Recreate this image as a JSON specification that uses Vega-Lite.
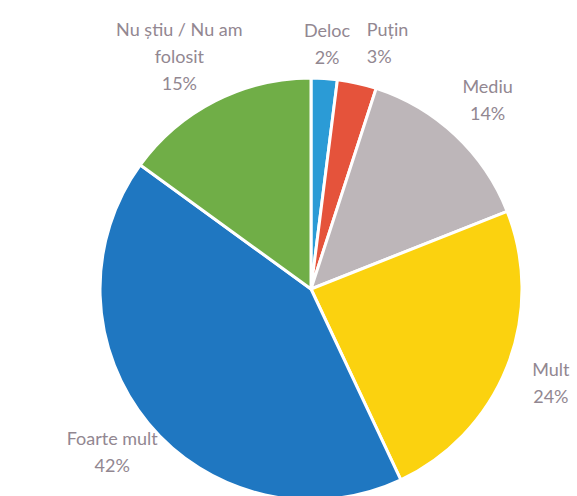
{
  "$schema": "https://vega.github.io/schema/vega-lite/v6.json",
  "autosize": {"type": "none"},
  "width": 422,
  "height": 422,
  "padding": {"left": 100, "top": 78, "right": 55, "bottom": 0},
  "background": "white",
  "view": {"stroke": null},
  "data": {
    "values": [
      {"idx": 1, "name": "Deloc", "value": 2},
      {"idx": 2, "name": "Puțin", "value": 3},
      {"idx": 3, "name": "Mediu", "value": 14},
      {"idx": 4, "name": "Mult", "value": 24},
      {"idx": 5, "name": "Foarte mult", "value": 42},
      {"idx": 6, "name": "Nu știu / Nu am\nfolosit", "value": 15}
    ]
  },
  "transform": [
    {"calculate": "datum.name + '\\n' + datum.value + '%'", "as": "label"}
  ],
  "encoding": {
    "theta": {"field": "value", "type": "quantitative", "stack": true},
    "order": {"field": "idx", "type": "quantitative"}
  },
  "layer": [
    {
      "mark": {"type": "arc", "outerRadius": 211, "stroke": "white", "strokeWidth": 3},
      "encoding": {
        "color": {
          "field": "name",
          "type": "nominal",
          "scale": {
            "domain": ["Deloc", "Puțin", "Mediu", "Mult", "Foarte mult", "Nu știu / Nu am\nfolosit"],
            "range": ["#2b9bd6", "#e5533b", "#bdb6b9", "#fbd20f", "#1f77c1", "#70ae47"]
          },
          "legend": null
        }
      }
    },
    {
      "mark": {
        "type": "text", "radius": 256, "dy": -2,
        "lineBreak": "\n", "lineHeight": 27,
        "font": "Lato", "fontSize": 18, "color": "#928791",
        "align": "center", "baseline": "middle"
      },
      "encoding": {
        "text": {"field": "label", "type": "nominal"},
        "opacity": {"condition": {"test": "datum.idx === 1", "value": 1}, "value": 0}
      }
    },
    {
      "mark": {
        "type": "text", "radius": 256, "dy": -8,
        "lineBreak": "\n", "lineHeight": 27,
        "font": "Lato", "fontSize": 18, "color": "#928791",
        "align": "left", "baseline": "middle"
      },
      "encoding": {
        "text": {"field": "label", "type": "nominal"},
        "opacity": {"condition": {"test": "datum.idx === 2", "value": 1}, "value": 0}
      }
    },
    {
      "mark": {
        "type": "text", "radius": 258, "dy": -13,
        "lineBreak": "\n", "lineHeight": 27,
        "font": "Lato", "fontSize": 18, "color": "#928791",
        "align": "center", "baseline": "middle"
      },
      "encoding": {
        "text": {"field": "label", "type": "nominal"},
        "opacity": {"condition": {"test": "datum.idx >= 3 && datum.idx <= 5", "value": 1}, "value": 0}
      }
    },
    {
      "mark": {
        "type": "text", "radius": 290, "dy": 0,
        "lineBreak": "\n", "lineHeight": 27,
        "font": "Lato", "fontSize": 18, "color": "#928791",
        "align": "center", "baseline": "middle"
      },
      "encoding": {
        "text": {"field": "label", "type": "nominal"},
        "opacity": {"condition": {"test": "datum.idx === 6", "value": 1}, "value": 0}
      }
    }
  ]
}
